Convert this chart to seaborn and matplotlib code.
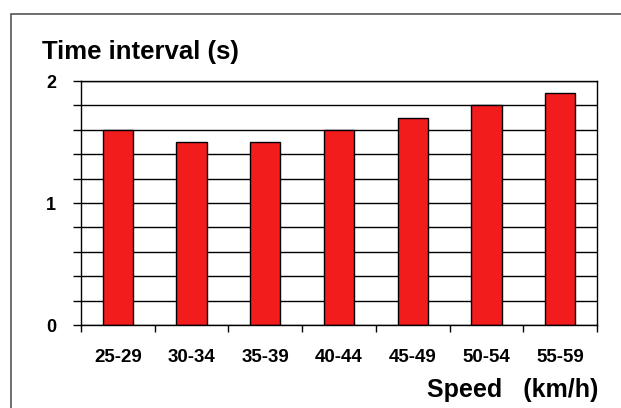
import matplotlib
matplotlib.use("Agg")
import matplotlib.pyplot as plt
from matplotlib.patches import Rectangle
import pandas as pd
import seaborn as sns

SPEED_BANDS = ['25-29', '30-34', '35-39', '40-44', '45-49', '50-54', '55-59']
TIME_INTERVAL = [1.6, 1.5, 1.5, 1.6, 1.7, 1.8, 1.9]
Y_MAJOR = [0, 1, 2]
Y_MINOR = [0.2, 0.4, 0.6, 0.8, 1.2, 1.4, 1.6, 1.8]

sns.set_theme(style="white")
plt.rcParams['font.family'] = ['Liberation Sans', 'DejaVu Sans']
plt.rcParams['font.weight'] = 'bold'
plt.rcParams['text.color'] = 'black'
plt.rcParams['xtick.color'] = 'black'
plt.rcParams['ytick.color'] = 'black'

df = pd.DataFrame({'Speed': SPEED_BANDS, 'Time': TIME_INTERVAL})

fig = plt.figure(figsize=(6.21, 4.08), dpi=100)
ax = fig.add_axes([0.1304, 0.2034, 0.831, 0.598])

# gridlines every 0.2
for v in Y_MAJOR + Y_MINOR:
    ax.axhline(v, color='black', lw=1.0, zorder=0)

sns.barplot(data=df, x='Speed', y='Time', color='#F21C1C', width=0.41,
            edgecolor='black', linewidth=1.0, saturation=1, ax=ax, zorder=2)

ax.set_ylim(0, 2)
ax.set_xlim(-0.5, len(SPEED_BANDS) - 0.5)
ax.set_xlabel('')
ax.set_ylabel('')

# y ticks: labels only at 0, 1, 2
ax.set_yticks(Y_MAJOR)
ax.set_yticks(Y_MINOR, minor=True)
ax.set_yticklabels([str(v) for v in Y_MAJOR], fontsize=13, fontweight='bold')
ax.tick_params(axis='y', which='both', left=True, length=6, width=1,
               color='black', labelcolor='black', pad=12)

# x ticks at category boundaries, labels centred
bounds = [i - 0.5 for i in range(len(SPEED_BANDS) + 1)]
ax.set_xticks(bounds)
ax.set_xticklabels([''] * len(bounds))
ax.set_xticks(range(len(SPEED_BANDS)), minor=True)
ax.set_xticklabels(SPEED_BANDS, minor=True, fontsize=13.5, fontweight='bold')
ax.tick_params(axis='x', which='major', bottom=True, length=5, width=1, color='black')
ax.tick_params(axis='x', which='minor', bottom=False, length=0, pad=17,
               labelcolor='black')

for s in ax.spines.values():
    s.set_color('black')
    s.set_linewidth(1.0)
    s.set_visible(True)

fig.text(0.0676, 0.872, 'Time interval (s)', fontsize=18.5, fontweight='bold',
         ha='left', va='center', color='black')
fig.text(0.963, 0.044, 'Speed   (km/h)', fontsize=18, fontweight='bold',
         ha='right', va='center', color='black')

fig.patches.append(Rectangle((11 / 621, -0.1), 1.0, 1 - 14 / 408 + 0.1,
                             transform=fig.transFigure, fill=False,
                             edgecolor='#555555', lw=1.2))

fig.savefig('out.png', dpi=100)
